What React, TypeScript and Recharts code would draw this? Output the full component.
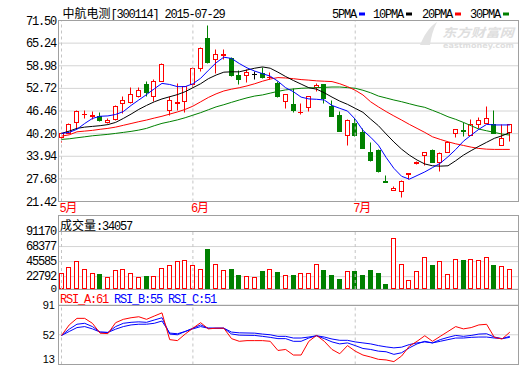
import React from 'react';
import { ComposedChart, Bar, Line, XAxis, YAxis, CartesianGrid, ReferenceLine } from 'recharts';

// ---- data ----
const monthStarts = [0, 17, 38];
const monthLabels = ['5', '6', '7'];

const opens = [
  39.2, 40.2, 43.2, 45.4, 44.9, 44.9, 43.4, 44.2, 48.4, 48.9,
  50.6, 53.7, 50.4, 54.6, 46.7, 48.6, 49.0, 53.7, 58.3, 66.4,
  60.8, 61.9, 61.0, 56.2, 56.4, 56.6, 56.9, 55.6, 54.1, 49.2,
  48.3, 46.0, 47.4, 52.9, 53.7, 47.6, 45.3, 39.8, 43.0, 40.4,
  34.9, 35.6, 26.9, 24.6, 24.1, 28.9, 31.9, 34.05, 35.4, 32.2,
  35.0, 40.3, 41.0, 39.8, 42.85, 43.0, 42.8, 36.8, 40.5,
];
const highs = [
  40.5, 42.9, 46.7, 46.7, 46.4, 46.1, 44.3, 48.0, 50.4, 53.0,
  53.0, 54.6, 55.3, 59.5, 50.4, 54.1, 53.3, 58.4, 63.9, 70.2,
  63.4, 63.6, 61.4, 57.6, 58.0, 57.4, 58.5, 57.2, 54.6, 50.9,
  52.75, 48.6, 50.5, 54.1, 53.8, 49.5, 46.3, 44.0, 44.4, 41.7,
  37.7, 35.7, 28.7, 25.7, 27.1, 29.3, 32.4, 35.0, 35.8, 34.9,
  38.0, 41.4, 43.2, 44.2, 44.6, 47.6, 46.5, 42.8, 42.8,
];
const lows = [
  37.8, 40.1, 41.7, 44.4, 44.1, 43.5, 42.9, 43.8, 45.8, 48.4,
  50.3, 50.4, 49.0, 54.5, 45.3, 46.7, 46.0, 53.0, 57.4, 59.7,
  56.9, 60.8, 56.0, 53.7, 54.3, 55.3, 55.5, 55.3, 50.2, 47.2,
  46.0, 45.5, 46.3, 51.8, 48.6, 44.8, 40.7, 36.8, 39.5, 36.0,
  32.6, 29.5, 26.8, 24.5, 22.5, 27.5, 31.6, 31.5, 32.1, 29.8,
  34.9, 39.1, 39.3, 39.7, 41.65, 42.9, 40.2, 36.8, 37.9,
];
const closes = [
  40.3, 42.85, 46.3, 45.5, 45.1, 43.8, 43.7, 47.8, 49.3, 51.0,
  52.0, 51.5, 54.5, 59.4, 49.5, 48.8, 53.2, 58.3, 63.8, 60.0,
  62.0, 62.0, 56.2, 55.1, 57.1, 56.6, 55.7, 55.8, 50.4, 50.9,
  46.7, 46.1, 50.4, 53.6, 50.0, 44.9, 40.9, 43.9, 39.8, 36.1,
  32.7, 29.6, 26.8, 25.0, 27.0, 29.2, 32.3, 34.88, 32.2, 34.7,
  37.7, 41.4, 40.7, 42.8, 43.7, 44.4, 40.3, 38.9, 42.6,
];
const ma5 = [
  40.26, 40.54, 41.4, 43.0, 44.4, 45.0, 45.1, 45.5, 46.3, 48.0,
  49.5, 51.0, 52.6, 54.1, 53.8, 53.2, 53.2, 54.0, 55.5, 57.7,
  59.8, 61.35, 61.0, 59.6, 58.4, 57.5, 56.8, 56.1, 54.7, 52.9,
  51.8, 50.3, 49.8, 49.7, 49.5, 48.0, 47.2, 46.45, 44.2, 41.1,
  39.2, 37.0, 33.6, 30.6, 28.4, 27.6, 28.6, 29.6, 30.8, 32.0,
  33.8, 35.8, 38.1, 39.8, 41.4, 42.76, 42.6, 42.6, 42.6,
];
const ma10 = [
  40.26, 40.9, 41.65, 42.0, 42.2, 42.4, 42.7, 43.3, 44.4, 45.6,
  46.9, 48.0, 49.0, 49.8, 50.4, 51.0, 51.8, 52.9, 54.0, 55.4,
  56.4, 57.2, 57.3, 57.3, 57.8, 58.3, 58.65, 58.3, 57.2, 56.0,
  54.9, 53.9, 52.9, 52.5, 51.5, 50.3, 49.2, 48.3, 47.2, 46.1,
  44.2, 42.4, 40.1, 37.9, 35.9, 34.25, 32.9, 31.8, 31.3, 31.2,
  31.3, 32.7, 34.25, 35.5, 36.7, 37.8, 38.9, 39.6, 40.5,
];
const ma20 = [
  39.5, 39.87, 40.7, 40.9, 41.1, 41.4, 41.65, 42.0, 42.5, 43.0,
  43.5, 43.96, 44.5, 45.0, 45.6, 46.2, 46.9, 47.8, 49.0, 50.2,
  51.2, 52.0, 52.5, 52.9, 53.4, 54.0, 54.7, 55.3, 55.7, 55.6,
  55.4, 55.15, 55.0, 54.8, 54.7, 54.6, 54.0, 53.2, 52.2, 50.9,
  49.0, 47.6, 46.3, 45.1, 43.96, 42.76, 41.65, 40.54, 39.32, 38.6,
  37.94, 37.38, 36.93, 36.46, 36.1, 35.9, 35.83, 35.83, 35.83,
];
const ma30 = [
  38.6, 38.77, 39.05, 39.32, 39.6, 39.8, 40.0, 40.26, 40.54, 40.82,
  41.18, 41.65, 42.38, 43.04, 43.5, 44.0, 44.6, 45.3, 46.0, 46.8,
  47.6, 48.2, 48.86, 49.5, 50.1, 50.6, 50.9, 51.4, 51.9, 52.3,
  52.55, 52.75, 52.83, 52.92, 53.0, 53.1, 53.1, 52.92, 52.75, 52.2,
  51.5, 50.6, 50.06, 49.5, 49.03, 48.47, 47.92, 47.47, 46.65, 45.81,
  44.87, 44.15, 43.3, 42.38, 41.46, 40.99, 40.54, 40.07, 39.8,
];
const volumes = [
  26900, 37080, 46190, 34040, 27960, 25380, 21880, 32520, 34040, 26900,
  21880, 23400, 23400, 35560, 40110, 45130, 47710, 40110, 34040, 63360,
  41630, 32520, 32970, 23860, 23400, 21880, 29930, 34040, 28410, 24920,
  24920, 27960, 27960, 41630, 32520, 24920, 18840, 31000, 29930, 24920,
  31450, 26900, 10180, 81140, 41630, 17320, 31000, 52270, 39050, 45130,
  26440, 49230, 47710, 49230, 47710, 52270, 40110, 38600, 34057,
];
const rsiA = [
  51, 64.9, 73.5, 73.5, 67, 54, 53.5, 67.8, 72.2, 74.3,
  75.6, 72.2, 76.5, 80.7, 45.6, 44.3, 52.9, 60.6, 67.8, 59.7,
  60.6, 60.6, 46.9, 43.4, 44.3, 44.3, 44.3, 43.4, 31.4, 32.7,
  25.4, 25.4, 43.4, 51.1, 43.4, 32.7, 27.1, 37.8, 30.5, 25.4,
  22.8, 19.8, 19.0, 16.8, 24.1, 37.0, 43.4, 50.7, 43.4, 49.9,
  56.3, 62.7, 59.7, 61.4, 64.9, 65.7, 48.6, 46.4, 55.4,
];
const rsiB = [
  51, 59.3, 65.8, 67, 62.7, 55.5, 55, 62.7, 67, 68.3,
  68.9, 68.3, 71.3, 74.3, 52.9, 52, 56.3, 60.6, 64.9, 60.6,
  60.6, 60.6, 53.0, 51.5, 51.3, 51.1, 49.9, 48.6, 46.9, 46.9,
  43.4, 43.4, 47.7, 50.7, 46.9, 42.6, 40, 41.3, 37.8, 34,
  32.7, 30.5, 29.7, 26.3, 28.4, 34.8, 40, 43.4, 41.3, 45.6,
  48.6, 51.1, 49.9, 51.1, 52.9, 53.3, 49, 46.9, 49.9,
];
const rsiC = [
  51, 56.3, 61.4, 62.7, 59.7, 55.5, 55, 59.3, 62.7, 64.9,
  65.8, 65.8, 67, 70, 54.2, 53.3, 56.3, 59.7, 62.7, 60.6,
  60.6, 60.6, 55.5, 54.5, 54.3, 54.1, 52.9, 52, 49.9, 49.9,
  47.7, 47.7, 49, 50.7, 49, 46.4, 44.7, 44.7, 42.6, 41.3,
  40, 37.8, 36.1, 34.8, 35.7, 39.1, 41.3, 42.6, 41.3, 43.4,
  45.6, 47.7, 47.7, 48.6, 49, 49, 47.7, 46.9, 48.6,
];

const priceTicks = [21.42, 27.68, 33.94, 40.2, 46.46, 52.72, 58.98, 65.24, 71.5];
const volTicks = [22792, 45585, 68377, 91170];
const rsiTicks = [13, 52, 91];

const legend = [
  { name: '5PMA', color: '#0000ff' },
  { name: '10PMA', color: '#000000' },
  { name: '20PMA', color: '#ff0000' },
  { name: '30PMA', color: '#008000' },
];

const data = opens.map((open, i) => ({
  i,
  open,
  high: highs[i],
  low: lows[i],
  close: closes[i],
  range: [lows[i], highs[i]],
  ma5: ma5[i],
  ma10: ma10[i],
  ma20: ma20[i],
  ma30: ma30[i],
  vol: volumes[i],
  rsiA: rsiA[i],
  rsiB: rsiB[i],
  rsiC: rsiC[i],
}));

// ---- styles ----
const RED = '#ff0000';
const GREEN = '#008000';
const BLUE = '#0000ff';
const GRID = '#d4d4d4';
const FRAME = '#a0a0a0';
const DASH = '#c4c4c4';
const X_DOMAIN: [number, number] = [-0.3234, 59.06];

const mono: React.CSSProperties = {
  fontFamily: '"Liberation Mono", "DejaVu Sans Mono", monospace',
  fontSize: 12,
  letterSpacing: '-1.2px',
};
const cjk: React.CSSProperties = { fontFamily: '"Noto Sans CJK SC", sans-serif', fontSize: 12 };

const snap = (v: number) => Math.round(v - 0.5) + 0.5;

function Candle(props: any) {
  const { x, y, width, height, payload } = props;
  if (x == null || !payload) return null;
  const { open, close, high, low } = payload;
  const k = high > low ? height / (high - low) : 0;
  const py = (v: number) => y + (high - v) * k;
  const cx = Math.floor(x + width / 2) + 0.5;
  const yH = snap(py(high));
  const yL = snap(py(low));
  const yO = snap(py(open));
  const yC = snap(py(close));
  const top = Math.min(yO, yC);
  const bot = Math.max(yO, yC);
  const color = close > open ? RED : close < open ? GREEN : '#000';
  if (bot - top < 1) {
    return (
      <g stroke={color} strokeWidth={1}>
        <line x1={cx} y1={yH} x2={cx} y2={yL} />
        <line x1={cx - 2.5} y1={yC} x2={cx + 2.5} y2={yC} />
      </g>
    );
  }
  if (close > open) {
    return (
      <g stroke={RED} strokeWidth={1}>
        {yH < top && <line x1={cx} y1={yH} x2={cx} y2={top} />}
        {yL > bot && <line x1={cx} y1={bot} x2={cx} y2={yL} />}
        <rect x={cx - 2} y={top} width={4} height={bot - top} fill="#fff" />
      </g>
    );
  }
  return (
    <g stroke={GREEN} strokeWidth={1}>
      <line x1={cx} y1={yH} x2={cx} y2={yL} />
      <rect x={cx - 2} y={top} width={4} height={bot - top} fill={GREEN} />
    </g>
  );
}

function VolBar(props: any) {
  const { x, y, width, height, payload } = props;
  if (x == null || !payload) return null;
  const cx = Math.floor(x + width / 2) + 0.5;
  const top = snap(y);
  const bot = snap(y + height) - 1;
  const up = payload.close >= payload.open;
  return (
    <rect
      x={cx - 2}
      y={top}
      width={4}
      height={Math.max(bot - top, 0)}
      fill={up ? '#fff' : GREEN}
      stroke={up ? RED : GREEN}
      strokeWidth={1}
    />
  );
}

const PriceTick = (props: any) => (
  <text x={56} y={props.y + 4} textAnchor="end" fill="#000" style={mono}>
    {Number(props.payload.value).toFixed(2)}
  </text>
);

const VolTick = (props: any) => (
  <text x={56} y={props.y + 3} textAnchor="end" fill="#000" style={mono}>
    {props.payload.value}
  </text>
);

const RsiTick = (props: any) => (
  <text
    x={55}
    y={props.payload.value === 13 ? props.y - 1.5 : props.y + 4}
    textAnchor="end"
    fill="#000"
    style={{ fontFamily: '"Liberation Sans", Arial, sans-serif', fontSize: 11 }}
  >
    {props.payload.value}
  </text>
);

const MonthTick = (props: any) => {
  const idx = monthStarts.indexOf(props.payload.value);
  return (
    <text x={props.x - 2} y={212} fill={RED}>
      <tspan style={mono}>{monthLabels[idx]}</tspan>
      <tspan style={cjk}>月</tspan>
    </text>
  );
};

const monthLines = monthStarts.map((m) => (
  <ReferenceLine key={m} x={m} stroke={DASH} strokeDasharray="3 3" ifOverflow="visible" />
));

export default function App() {
  return (
    <div style={{ position: 'absolute', left: 0, top: 0, width: 520, height: 365, background: '#fff', overflow: 'hidden' }}>
      {/* price panel */}
      <div style={{ position: 'absolute', left: 0, top: 0 }}>
        <ComposedChart width={520} height={216} data={data} margin={{ top: 20.5, right: 2, bottom: 0, left: 0 }}>
          <CartesianGrid vertical={false} stroke={GRID} />
          <XAxis
            dataKey="i"
            type="number"
            domain={X_DOMAIN}
            allowDataOverflow
            ticks={monthStarts}
            interval={0}
            tick={MonthTick}
            axisLine={false}
            tickLine={false}
            height={14.5}
          />
          <YAxis
            domain={[21.42, 71.5]}
            allowDataOverflow
            ticks={priceTicks}
            interval={0}
            tick={PriceTick}
            axisLine={false}
            tickLine={false}
            width={59}
          />
          {monthLines}
          <Bar dataKey="range" barSize={5} shape={Candle} isAnimationActive={false} />
          <Line dataKey="ma30" stroke={GREEN} dot={false} activeDot={false} strokeWidth={1} isAnimationActive={false} />
          <Line dataKey="ma20" stroke={RED} dot={false} activeDot={false} strokeWidth={1} isAnimationActive={false} />
          <Line dataKey="ma10" stroke="#000" dot={false} activeDot={false} strokeWidth={1} isAnimationActive={false} />
          <Line dataKey="ma5" stroke={BLUE} dot={false} activeDot={false} strokeWidth={1} isAnimationActive={false} />
        </ComposedChart>
      </div>

      {/* volume panel */}
      <div style={{ position: 'absolute', left: 0, top: 216 }}>
        <ComposedChart width={520} height={73} data={data} margin={{ top: 15.5, right: 2, bottom: 0, left: 0 }}>
          <CartesianGrid vertical={false} stroke={GRID} />
          <XAxis dataKey="i" type="number" domain={X_DOMAIN} allowDataOverflow hide />
          <YAxis
            domain={[4100, 91170]}
            allowDataOverflow
            ticks={volTicks}
            interval={0}
            tick={VolTick}
            axisLine={false}
            tickLine={false}
            width={59}
          />
          {monthLines}
          <Bar dataKey="vol" barSize={5} shape={VolBar} isAnimationActive={false} />
        </ComposedChart>
      </div>

      {/* RSI panel */}
      <div style={{ position: 'absolute', left: 0, top: 289 }}>
        <ComposedChart width={520} height={75.5} data={data} margin={{ top: 16, right: 2, bottom: 0, left: 0 }}>
          <CartesianGrid vertical={false} stroke={GRID} />
          <XAxis dataKey="i" type="number" domain={X_DOMAIN} allowDataOverflow hide />
          <YAxis
            domain={[13, 91]}
            allowDataOverflow
            ticks={rsiTicks}
            interval={0}
            tick={RsiTick}
            axisLine={false}
            tickLine={false}
            width={59}
          />
          {monthLines}
          <Line dataKey="rsiC" stroke={BLUE} dot={false} activeDot={false} strokeWidth={1} isAnimationActive={false} />
          <Line dataKey="rsiB" stroke={BLUE} dot={false} activeDot={false} strokeWidth={1} isAnimationActive={false} />
          <Line dataKey="rsiA" stroke={RED} dot={false} activeDot={false} strokeWidth={1} isAnimationActive={false} />
        </ComposedChart>
      </div>

      {/* frames, titles, legend */}
      <svg width={520} height={365} style={{ position: 'absolute', left: 0, top: 0, pointerEvents: 'none' }}>
        <text x={62.5} y={18} fill="#000">
          <tspan style={cjk}>中航电测</tspan>
          <tspan style={mono}>[300114] 2015-07-29</tspan>
        </text>
        {legend.map((l, k) => {
          const x0 = [332, 373, 422, 470][k];
          const w = l.name.length * 6;
          return (
            <g key={l.name}>
              <text x={x0} y={17.5} fill="#000" style={mono}>{l.name}</text>
              <rect x={x0 + w + 3} y={12.5} width={6} height={3} fill={l.color} />
            </g>
          );
        })}

        {/* watermark */}
        <path d="M420 45 C424 36 428 28 437 22 C433 30 431 37 430 45 Z" fill="#e2e2e2" />
        <text
          x={442}
          y={36.5}
          fill="#dedede"
          textLength={72}
          lengthAdjust="spacingAndGlyphs"
          style={{ fontFamily: '"Noto Sans CJK SC", sans-serif', fontSize: 12, fontWeight: 700, fontStyle: 'italic' }}
        >
          东方财富网
        </text>
        <text
          x={443}
          y={47.5}
          fill="#dedede"
          textLength={71}
          lengthAdjust="spacingAndGlyphs"
          style={{ fontFamily: '"DejaVu Sans", sans-serif', fontSize: 7.5, fontWeight: 700 }}
        >
          eastmoney.com
        </text>

        <g fill="none" stroke={FRAME} strokeWidth={1}>
          <rect x={58.5} y={20.5} width={460} height={181} />
          <rect x={58.5} y={215.5} width={460} height={74} />
          <line x1={58.5} y1={231.5} x2={518.5} y2={231.5} />
          <line x1={58.5} y1={289.5} x2={58.5} y2={365} />
          <line x1={518.5} y1={289.5} x2={518.5} y2={365} />
          <line x1={58.5} y1={305.5} x2={518.5} y2={305.5} />
          <line x1={58.5} y1={364.5} x2={518.5} y2={364.5} />
        </g>

        <text x={60} y={229.5} fill="#000">
          <tspan style={cjk}>成交量</tspan>
          <tspan style={mono}>:34057</tspan>
        </text>
        <text x={56} y={292} textAnchor="end" fill="#000" style={{ ...mono, fontSize: 11 }}>0</text>

        <text x={60} y={303} style={mono}>
          <tspan fill={RED}>RSI_A:61</tspan>
          <tspan fill={BLUE} dx={6}>RSI_B:55</tspan>
          <tspan fill={BLUE} dx={6}>RSI_C:51</tspan>
        </text>
      </svg>
    </div>
  );
}
